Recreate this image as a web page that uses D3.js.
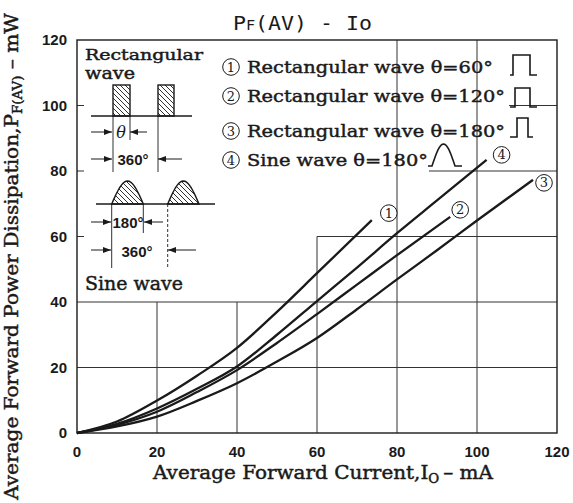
<!DOCTYPE html>
<html>
<head>
<meta charset="utf-8">
<script src="https://cdn.jsdelivr.net/npm/d3@7"></script>
<style>
  body { margin: 0; background: #fff; }
  svg { display: block; }
</style>
</head>
<body>
<div id="chart"></div>
<script>
// tick values
var xTicks = [0, 20, 40, 60, 80, 100, 120];
var yTicks = [0, 20, 40, 60, 80, 100, 120];

// curves, Io (mA) -> PF(AV) (mW)
var rect60I  = [0, 10, 20, 30, 40, 50, 60, 73.7];
var rect60P  = [0, 3.5, 9.9, 17.5, 26, 37, 48.8, 65];
var rect120I = [0, 10, 20, 30, 40, 50, 60, 70, 80, 93.3];
var rect120P = [0, 2.5, 6.5, 12.5, 19.2, 27.5, 36.3, 45.3, 54.3, 66];
var rect180I = [0, 10, 20, 30, 40, 50, 60, 70, 80, 90, 100, 114];
var rect180P = [0, 2, 5, 9.8, 15.2, 21.8, 29, 37.8, 46.9, 55.8, 64.9, 77.3];
var sine180I = [0, 10, 20, 30, 40, 50, 60, 70, 80, 90, 102.4];
var sine180P = [0, 2.8, 7.5, 13.5, 20.3, 30, 40.3, 50.5, 61, 71, 83.4];

var curveMarks = ["1", "2", "3", "4"];
var legendTexts = [
  "Rectangular wave \u03b8=60\u00b0",
  "Rectangular wave \u03b8=120\u00b0",
  "Rectangular wave \u03b8=180\u00b0",
  "Sine wave \u03b8=180\u00b0"
];

// grid pieces left visible between the legends: [value, from, to]
var hGrid = [[20, 0, 120], [40, 0, 120], [60, 60, 120], [80, 88, 120], [100, 108, 120]];
var vGrid = [[20, 0, 40], [40, 0, 40], [60, 0, 60], [80, 0, 120], [100, 0, 120]];

var svgWidth = 573;
var svgHeight = 503;
var margin = { top: 40, right: 16, bottom: 70, left: 77 };
var width = svgWidth - margin.left - margin.right;
var height = svgHeight - margin.top - margin.bottom;

var ink = "#1a1a1a";
var serif = "'DejaVu Serif', serif";

var svg = d3.select("#chart").append("svg")
  .attr("width", svgWidth)
  .attr("height", svgHeight);

svg.append("rect").attr("width", svgWidth).attr("height", svgHeight).attr("fill", "#fff");

var defs = svg.append("defs");
defs.append("pattern")
  .attr("id", "hatch")
  .attr("patternUnits", "userSpaceOnUse")
  .attr("width", 5).attr("height", 5)
  .append("path")
  .attr("d", "M-1,-1 L6,6 M-3.5,1.5 L1.5,6.5 M1.5,-3.5 L6.5,1.5")
  .attr("stroke", ink).attr("stroke-width", 0.9);

defs.append("marker")
  .attr("id", "arrow")
  .attr("markerUnits", "userSpaceOnUse")
  .attr("markerWidth", 9).attr("markerHeight", 6)
  .attr("refX", 8).attr("refY", 3)
  .attr("orient", "auto")
  .append("path")
  .attr("d", "M0,0 L8,3 L0,6 Z")
  .attr("fill", ink);

var boldish = function(sel) {
  return sel.attr("font-family", serif).attr("font-size", 18)
    .attr("fill", ink).attr("stroke", ink).attr("stroke-width", 0.45);
};

// circled number, drawn as a ring with a digit
function circled(g, cx, cy, label) {
  g.append("circle")
    .attr("cx", cx).attr("cy", cy).attr("r", 8.3)
    .attr("fill", "#fff").attr("stroke", ink).attr("stroke-width", 1);
  g.append("text")
    .attr("x", cx).attr("y", cy + 4.5)
    .attr("text-anchor", "middle")
    .attr("font-family", serif).attr("font-size", 13)
    .attr("fill", ink)
    .text(label);
}

var chartGroup = svg.append("g")
  .attr("transform", `translate(${margin.left}, ${margin.top})`);

var x = d3.scaleLinear().domain([0, 120]).range([0, width]);
var y = d3.scaleLinear().domain([0, 120]).range([height, 0]);

// grid
chartGroup.selectAll("line.hgrid")
  .data(hGrid).enter().append("line")
  .attr("class", "hgrid")
  .attr("x1", d => x(d[1])).attr("x2", d => x(d[2]))
  .attr("y1", d => y(d[0])).attr("y2", d => y(d[0]))
  .attr("stroke", "#333").attr("stroke-width", 1);

chartGroup.selectAll("line.vgrid")
  .data(vGrid).enter().append("line")
  .attr("class", "vgrid")
  .attr("x1", d => x(d[0])).attr("x2", d => x(d[0]))
  .attr("y1", d => y(d[1])).attr("y2", d => y(d[2]))
  .attr("stroke", "#333").attr("stroke-width", 1);

// short ticks on the left edge where the grid is hidden
chartGroup.selectAll("line.ltick")
  .data([60, 80, 100]).enter().append("line")
  .attr("class", "ltick")
  .attr("x1", 0).attr("x2", 7)
  .attr("y1", d => y(d)).attr("y2", d => y(d))
  .attr("stroke", "#333").attr("stroke-width", 1);

// frame
chartGroup.append("rect")
  .attr("width", width).attr("height", height)
  .attr("fill", "none").attr("stroke", ink).attr("stroke-width", 1.4);

// tick labels
chartGroup.selectAll("text.xt")
  .data(xTicks).enter().append("text")
  .attr("class", "xt")
  .attr("x", d => x(d)).attr("y", height + 24)
  .attr("text-anchor", "middle")
  .attr("font-family", "'Liberation Sans', sans-serif")
  .attr("font-weight", "bold").attr("font-size", 15)
  .attr("fill", ink)
  .text(d => d);

chartGroup.selectAll("text.yt")
  .data(yTicks).enter().append("text")
  .attr("class", "yt")
  .attr("x", -10).attr("y", d => y(d) + 5)
  .attr("text-anchor", "end")
  .attr("font-family", "'Liberation Sans', sans-serif")
  .attr("font-weight", "bold").attr("font-size", 15)
  .attr("fill", ink)
  .text(d => d);

// curves
var series = [
  d3.zip(rect60I, rect60P),
  d3.zip(rect120I, rect120P),
  d3.zip(rect180I, rect180P),
  d3.zip(sine180I, sine180P)
];
var markOffsets = [[17, -7], [10, -7], [11, 3], [15, -5]];

var line = d3.line()
  .x(d => x(d[0]))
  .y(d => y(d[1]))
  .curve(d3.curveMonotoneX);

chartGroup.selectAll("path.curve")
  .data(series).enter().append("path")
  .attr("class", "curve")
  .attr("d", line)
  .attr("fill", "none")
  .attr("stroke", ink)
  .attr("stroke-width", 2.3);

series.forEach(function(s, i) {
  var end = s[s.length - 1];
  circled(chartGroup, x(end[0]) + markOffsets[i][0], y(end[1]) + markOffsets[i][1], curveMarks[i]);
});

// title
var title = svg.append("text")
  .attr("x", 233).attr("y", 30)
  .attr("textLength", 139).attr("lengthAdjust", "spacingAndGlyphs")
  .attr("font-family", "'DejaVu Sans Mono', monospace")
  .attr("font-size", 20)
  .attr("fill", ink);
title.append("tspan").text("P");
title.append("tspan").attr("font-size", 14).text("F");
title.append("tspan").text("(AV) - Io");

// axis titles
var xLabel = svg.append("text")
  .attr("x", 153).attr("y", 479)
  .attr("textLength", 340).attr("lengthAdjust", "spacingAndGlyphs")
  .call(boldish);
xLabel.append("tspan").text("Average Forward Current,I");
xLabel.append("tspan").attr("font-size", 12).attr("dy", 4).text("O");
xLabel.append("tspan").attr("dy", -4).text("\u2009\u2013 mA");

var yLabel = svg.append("text")
  .attr("transform", "translate(18, 500) rotate(-90)")
  .attr("textLength", 487).attr("lengthAdjust", "spacingAndGlyphs")
  .call(boldish);
yLabel.append("tspan").text("Average Forward Power Dissipation,P");
yLabel.append("tspan").attr("font-size", 12).attr("dy", 4).text("F(AV)");
yLabel.append("tspan").attr("dy", -4).text(" \u2013 mW");

// legend on the right
var legendBase = [73, 102, 137, 166];
var legendLen = [246, 258, 258, 181];
var legend = svg.append("g");

curveMarks.forEach(function(m, i) {
  circled(legend, 231, legendBase[i] - 6, m);
});

legend.selectAll("text.ltext")
  .data(legendTexts).enter().append("text")
  .attr("class", "ltext")
  .attr("x", 247).attr("y", (d, i) => legendBase[i])
  .attr("textLength", (d, i) => legendLen[i]).attr("lengthAdjust", "spacingAndGlyphs")
  .call(boldish).attr("font-size", 17)
  .text(d => d);

// small pulse icons after each entry
var pulses = [
  "M510,75 L513,75 L513,55 L530,55 L530,75 L537,75",
  "M510,107 L515,107 L515,88 L530,88 L530,107 L537,107",
  "M510,137 L517,137 L517,118 L528,118 L528,137 L533,137"
];
legend.selectAll("path.pulse")
  .data(pulses).enter().append("path")
  .attr("class", "pulse")
  .attr("d", d => d)
  .attr("fill", "none").attr("stroke", ink).attr("stroke-width", 1.6);

var bump = d3.range(0, 1.001, 0.05).map(t => [432 + t * 23, 166 - 22 * Math.sin(Math.PI * t)]);
legend.append("path")
  .attr("d", "M428,166 L432,166" + d3.line()(bump).replace("M", "L") + " L462,166")
  .attr("fill", "none").attr("stroke", ink).attr("stroke-width", 1.6);

// waveform sketch on the left
var sketch = svg.append("g");
var labelFont = "'Liberation Sans', sans-serif";

sketch.append("text").attr("x", 85).attr("y", 60)
  .attr("textLength", 118).attr("lengthAdjust", "spacingAndGlyphs")
  .call(boldish).attr("font-size", 15).text("Rectangular");
sketch.append("text").attr("x", 85).attr("y", 79)
  .attr("textLength", 50).attr("lengthAdjust", "spacingAndGlyphs")
  .call(boldish).attr("font-size", 16).text("wave");
sketch.append("text").attr("x", 85).attr("y", 290)
  .attr("textLength", 98).attr("lengthAdjust", "spacingAndGlyphs")
  .call(boldish).text("Sine wave");

// rectangular pulses
[[113, 130], [158, 174]].forEach(function(p) {
  sketch.append("rect")
    .attr("x", p[0]).attr("y", 85).attr("width", p[1] - p[0]).attr("height", 31)
    .attr("fill", "url(#hatch)").attr("stroke", ink).attr("stroke-width", 1.4);
});
sketch.append("line").attr("x1", 91).attr("x2", 192).attr("y1", 116).attr("y2", 116)
  .attr("stroke", ink).attr("stroke-width", 1.4);

// sine bumps
[[111.7, 143.3], [167.7, 199]].forEach(function(p) {
  var pts = d3.range(0, 1.001, 0.05).map(t => [p[0] + t * (p[1] - p[0]), 204 - 23 * Math.sin(Math.PI * t)]);
  sketch.append("path")
    .attr("d", d3.line()(pts) + "Z")
    .attr("fill", "url(#hatch)").attr("stroke", ink).attr("stroke-width", 1.4);
});
sketch.append("line").attr("x1", 96).attr("x2", 215).attr("y1", 204).attr("y2", 204)
  .attr("stroke", ink).attr("stroke-width", 1.4);

// guide lines
var guides = [[113, 116, 172], [130, 116, 140], [158, 116, 172], [111.7, 204, 268], [143.3, 204, 233], [167.7, 204, 268]];
sketch.selectAll("line.guide")
  .data(guides).enter().append("line")
  .attr("class", "guide")
  .attr("x1", d => d[0]).attr("x2", d => d[0])
  .attr("y1", d => d[1]).attr("y2", d => d[2])
  .attr("stroke", ink).attr("stroke-width", 0.9)
  .attr("stroke-dasharray", (d, i) => i === 5 ? "3,2" : null);

// dimension arrows
var arrows = [
  [91, 112, 132], [147, 130, 132],
  [91, 112, 159], [182, 158, 159],
  [91, 111, 222], [163, 144, 222],
  [91, 111, 250], [196, 168, 250]
];
sketch.selectAll("line.arrow")
  .data(arrows).enter().append("line")
  .attr("class", "arrow")
  .attr("x1", d => d[0]).attr("x2", d => d[1])
  .attr("y1", d => d[2]).attr("y2", d => d[2])
  .attr("stroke", ink).attr("stroke-width", 1)
  .attr("marker-end", "url(#arrow)");

sketch.append("text").attr("x", 121).attr("y", 138)
  .attr("text-anchor", "middle")
  .attr("font-family", serif).attr("font-style", "italic").attr("font-size", 16)
  .attr("fill", ink).text("\u03b8");

var dims = [[133, 165, "360\u00b0"], [128, 228, "180\u00b0"], [137, 257, "360\u00b0"]];
sketch.selectAll("text.dim")
  .data(dims).enter().append("text")
  .attr("class", "dim")
  .attr("x", d => d[0]).attr("y", d => d[1])
  .attr("text-anchor", "middle")
  .attr("font-family", labelFont).attr("font-weight", "bold").attr("font-size", 15)
  .attr("fill", ink)
  .text(d => d[2]);
</script>
</body>
</html>
